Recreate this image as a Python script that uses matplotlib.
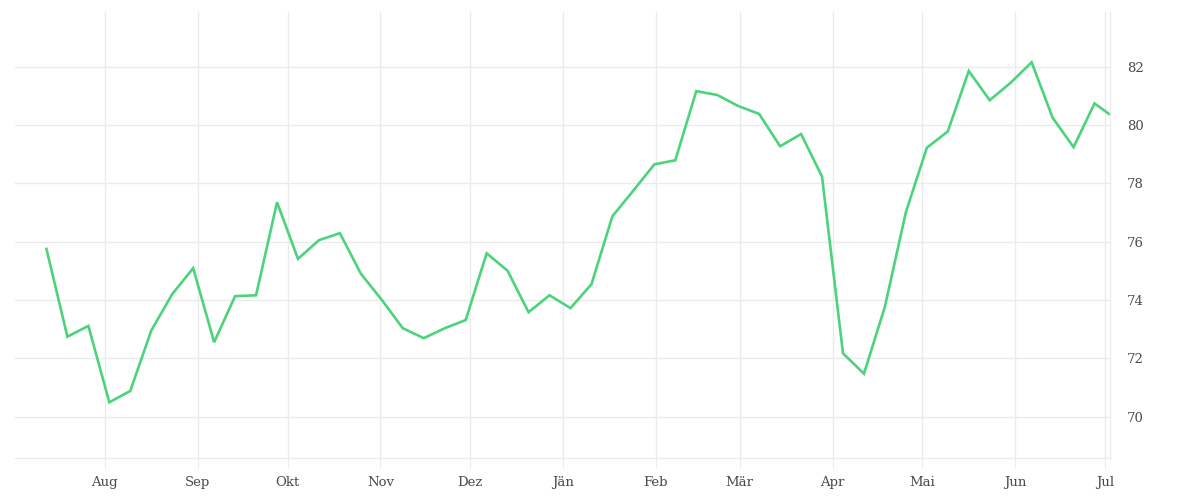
import matplotlib
matplotlib.use("Agg")
import matplotlib.pyplot as plt
import matplotlib.dates as mdates
import numpy as np
import pandas as pd

# weekly values
werte = [75.75, 72.74, 73.11, 70.49, 70.88, 72.95, 74.20, 75.09, 72.55, 74.13,
         74.16, 77.35, 75.41, 76.05, 76.29, 74.90, 74.00, 73.03, 72.69, 73.03,
         73.31, 75.60, 75.00, 73.58, 74.16, 73.72, 74.54, 76.87, 77.75, 78.65,
         78.79, 81.16, 81.03, 80.65, 80.38, 79.27, 79.69, 78.23, 72.17, 71.47,
         73.77, 77.01, 79.22, 79.78, 81.85, 80.85, 81.45, 82.15, 80.25, 79.24,
         80.74, 80.38]
datum = list(pd.date_range("2022-07-12 12:00", periods=51, freq="7D")) + [pd.Timestamp("2023-07-02 08:00")]

monate = ["Aug", "Sep", "Okt", "Nov", "Dez", "Jän", "Feb", "Mär", "Apr", "Mai", "Jun", "Jul"]
monat_start = pd.date_range("2022-08-01", periods=12, freq="MS")
y_ticks = [70, 72, 74, 76, 78, 80, 82]

grid_col = "#ebebeb"
text_col = "#4a4a4a"

fig = plt.figure(figsize=(12, 5), dpi=100)
ax = fig.add_axes([0.0125, 0.084, 0.9125, 0.892])

ax.plot(datum, werte, color="#4cd37b", linewidth=1.9, solid_joinstyle="miter")

ax.set_xlim(pd.Timestamp("2022-07-02"), pd.Timestamp("2023-07-02 16:00"))
ax.set_ylim(68.58, 83.875)

ax.set_xticks(monat_start)
ax.set_xticklabels(monate)
ax.set_yticks(y_ticks)
ax.yaxis.tick_right()

ax.grid(True, color=grid_col, linewidth=1)
ax.set_axisbelow(True)

for s in ["top", "left"]:
    ax.spines[s].set_visible(False)
for s in ["bottom", "right"]:
    ax.spines[s].set_color(grid_col)
    ax.spines[s].set_linewidth(1)

ax.tick_params(axis="x", length=7, color=grid_col, pad=6, labelsize=9.5, labelcolor=text_col)
ax.tick_params(axis="y", length=0, pad=12, labelsize=9.5, labelcolor=text_col)
for lab in ax.get_xticklabels() + ax.get_yticklabels():
    lab.set_family("DejaVu Serif")

fig.savefig("out.png", dpi=100)
